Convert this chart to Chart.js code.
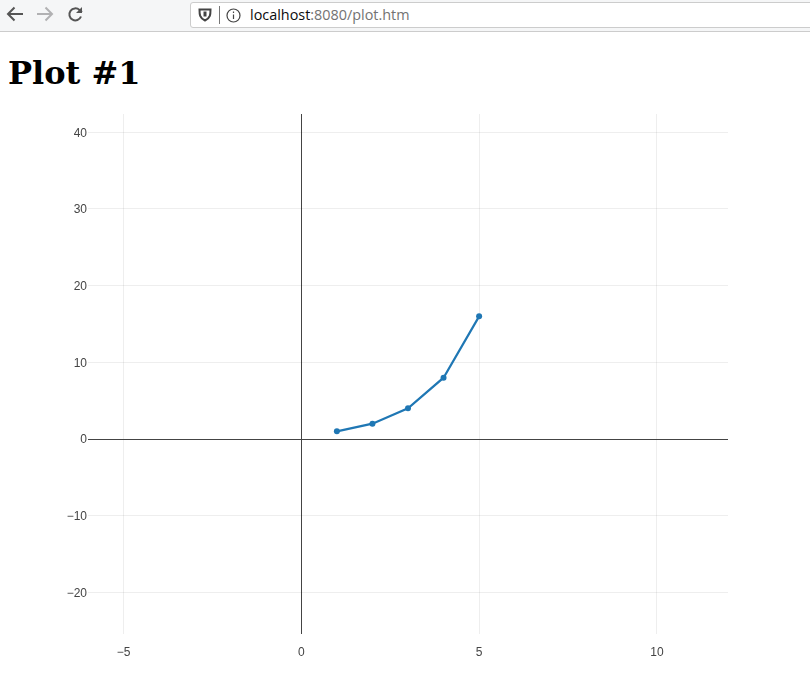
<!DOCTYPE html>
<html>
<head>
<meta charset="utf-8">
<title>Plot #1</title>
<script src="https://cdn.jsdelivr.net/npm/chart.js@4"></script>
<style>
  html, body { margin: 0; padding: 0; background: #fff; overflow: hidden; }
  #page { position: relative; width: 810px; height: 677px; overflow: hidden; }
  #toolbar { position: absolute; left: 0; top: 0; width: 810px; height: 31px; background: #f5f6f7; border-bottom: 1px solid #ccc; box-sizing: content-box; }
  #toolbar svg { position: absolute; }
  #urlbar { position: absolute; left: 190px; top: 2px; width: 640px; height: 24px; background: #fff; border: 1px solid #ccc; border-radius: 3px; }
  #divider { position: absolute; left: 219px; top: 6px; width: 1px; height: 18px; background: #777; }
  #url { position: absolute; left: 250px; top: 6px; font: 14.4px/18px "Open Sans", sans-serif; color: #737373; white-space: nowrap; }
  #url b { font-weight: normal; color: #0c0c0d; }
  h1 { position: absolute; left: 8px; top: 54px; margin: 0; font: bold 32px/38px "DejaVu Serif", serif; color: #000; }
  #wrap { position: absolute; left: 0; top: 100px; width: 810px; height: 577px; }
</style>
</head>
<body>
<div id="page">
  <div id="toolbar">
    <svg style="left:6px;top:5px" width="18" height="18" viewBox="0 0 18 18" fill="none" stroke="#555" stroke-width="2"><path d="M17 9H2M8.5 2.5L2 9l6.5 6.5"/></svg>
    <svg style="left:36px;top:5px" width="18" height="18" viewBox="0 0 18 18" fill="none" stroke="#b1b1b3" stroke-width="2"><path d="M1 9h15M9.5 2.5L16 9l-6.5 6.5"/></svg>
    <svg style="left:67px;top:6px" width="17" height="17" viewBox="0 0 17 17" fill="none" stroke="#555" stroke-width="2"><path d="M14 10.5A6 6 0 1 1 12.5 4L15 6"/><path d="M15 1v6H9" stroke="none" fill="#555"/></svg>
    <div id="urlbar"></div>
    <svg style="left:198px;top:7px" width="14" height="15" viewBox="0 0 14 15" fill="none" stroke="#444" stroke-width="2"><path d="M1.5 2.5h11c0 5 0 8.500-5.500 11C1.500 11 1.500 7.500 1.500 2.500z"/><path d="M7 4.500v5" stroke-width="3"/></svg>
    <div id="divider"></div>
    <svg style="left:226px;top:8px" width="15" height="15" viewBox="0 0 15 15" fill="none" stroke="#444" stroke-width="1.200"><circle cx="7.500" cy="7.500" r="6.500"/><path d="M7.500 6.500v4.500M7.500 3.500v1.600"/></svg>
    <div id="url"><b>localhost</b>:8080/plot.htm</div>
  </div>
  <h1>Plot #1</h1>
  <div id="wrap"><canvas id="plot" width="810" height="577"></canvas></div>
</div>
<script>
const xValues = [1, 2, 3, 4, 5]
const yValues = [1, 2, 4, 8, 16]
const xTicks = [-5, 0, 5, 10]
const yTicks = [-20, -10, 0, 10, 20, 30, 40]

const gridColor = 'rgba(0, 0, 0, 0.067)'
const zeroColor = '#444444'
const tickFont = { family: '"Liberation Sans", Arial, sans-serif', size: 12 }

function tickLabel(value) {
  return String(value).replace('-', '\u2212')
}

// empty first line nudges the y labels down a little, they sit too high otherwise
function yTickLabel(value) {
  return ['', tickLabel(value)]
}

function setTicks(list) {
  return scale => { scale.ticks = list.map(value => ({ value: value })) }
}

function lineColor(context) {
  return context.tick && context.tick.value === 0 ? zeroColor : gridColor
}

new Chart(document.getElementById('plot').getContext('2d'), {
  type: 'line',
  data: {
    datasets: [{
      data: xValues.map((x, i) => ({ x: x, y: yValues[i] })),
      borderColor: '#1f77b4',
      backgroundColor: '#1f77b4',
      borderWidth: 2.2,
      pointRadius: 3,
      pointBorderWidth: 0,
      pointHoverRadius: 3,
      tension: 0,
      fill: false
    }]
  },
  options: {
    responsive: false,
    animation: false,
    layout: { padding: { left: 0, right: 82, top: 14, bottom: 0 } },
    plugins: { legend: { display: false }, title: { display: false }, tooltip: { enabled: false } },
    scales: {
      x: {
        type: 'linear',
        min: -6,
        max: 12,
        afterBuildTicks: setTicks(xTicks),
        afterFit: scale => { scale.height = 43 },
        border: { display: false },
        grid: { color: lineColor, lineWidth: 1, drawTicks: false },
        ticks: { color: '#444444', font: tickFont, padding: 11, maxRotation: 0, autoSkip: false, callback: tickLabel }
      },
      y: {
        type: 'linear',
        min: -25.42,
        max: 42.38,
        afterBuildTicks: setTicks(yTicks),
        afterFit: scale => { scale.width = 88 },
        border: { display: false },
        grid: { color: lineColor, lineWidth: 1, drawTicks: false },
        ticks: { color: '#444444', font: { ...tickFont, lineHeight: '2px' }, padding: 1, autoSkip: false, callback: yTickLabel }
      }
    }
  }
})
</script>
</body>
</html>
